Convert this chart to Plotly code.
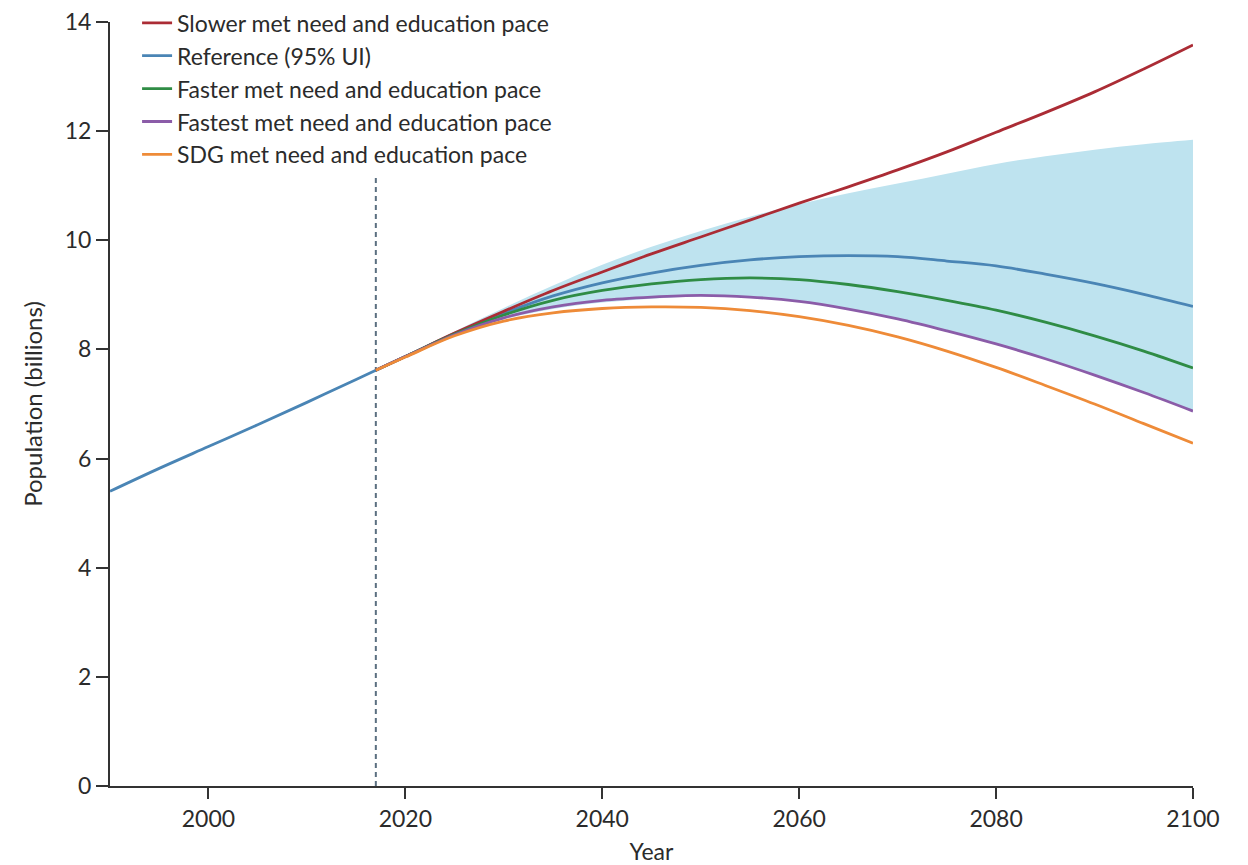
import plotly.graph_objects as go

# ---- data (billions) ----
hist_years = [1990, 1995, 2000, 2005, 2010, 2015, 2017]
hist_pop = [5.40, 5.82, 6.22, 6.62, 7.03, 7.45, 7.62]

fc_years = [2017, 2020, 2025, 2030, 2035, 2040, 2045, 2050, 2055, 2060,
            2065, 2070, 2075, 2080, 2085, 2090, 2095, 2100]
slower = [7.62, 7.87, 8.30, 8.70, 9.08, 9.42, 9.75, 10.06, 10.37, 10.68,
          10.98, 11.29, 11.62, 11.98, 12.34, 12.72, 13.14, 13.58]
reference = [7.62, 7.87, 8.29, 8.66, 8.98, 9.22, 9.40, 9.54, 9.64, 9.70,
             9.72, 9.70, 9.62, 9.53, 9.38, 9.21, 9.01, 8.79]
faster = [7.62, 7.87, 8.28, 8.63, 8.90, 9.08, 9.20, 9.28, 9.31, 9.28,
          9.19, 9.06, 8.90, 8.72, 8.50, 8.25, 7.97, 7.66]
fastest = [7.62, 7.87, 8.27, 8.58, 8.78, 8.90, 8.96, 8.99, 8.96, 8.88,
           8.74, 8.56, 8.34, 8.10, 7.83, 7.53, 7.21, 6.87]
sdg = [7.62, 7.86, 8.25, 8.52, 8.67, 8.75, 8.78, 8.77, 8.71, 8.60,
       8.44, 8.23, 7.97, 7.67, 7.34, 7.00, 6.64, 6.28]
ui_upper = [7.62, 7.88, 8.33, 8.76, 9.17, 9.55, 9.88, 10.17, 10.43, 10.66,
            10.86, 11.04, 11.22, 11.40, 11.54, 11.66, 11.76, 11.84]
ui_lower = [7.62, 7.86, 8.25, 8.55, 8.74, 8.86, 8.93, 8.97, 8.95, 8.87,
            8.73, 8.55, 8.33, 8.09, 7.82, 7.52, 7.20, 6.86]

forecast_start = 2017
divider_top = 11.15

x_ticks = [2000, 2020, 2040, 2060, 2080, 2100]
y_ticks = [0, 2, 4, 6, 8, 10, 12, 14]

names = ["Slower met need and education pace", "Reference (95% UI)",
         "Faster met need and education pace", "Fastest met need and education pace",
         "SDG met need and education pace"]
colors = ["#ab2c35", "#4a85b5", "#2f8c45", "#8b5ca8", "#ee8b38"]
band_color = "rgba(190,227,239,1)"

FONT = "Lato, 'Open Sans', sans-serif"
TXT = "#2b2b2b"
FS = 23

fig = go.Figure()

# UI band
fig.add_trace(go.Scatter(x=fc_years, y=ui_lower, mode="lines", line=dict(width=0, shape="spline"),
                         showlegend=False, hoverinfo="skip"))
fig.add_trace(go.Scatter(x=fc_years, y=ui_upper, mode="lines", line=dict(width=0, shape="spline"),
                         fill="tonexty", fillcolor=band_color, showlegend=False, hoverinfo="skip"))

# divider
fig.add_trace(go.Scatter(x=[forecast_start, forecast_start], y=[0, divider_top], mode="lines",
                         line=dict(color="#5b6f80", width=2, dash="5px,4px"),
                         showlegend=False, hoverinfo="skip"))

# historical
fig.add_trace(go.Scatter(x=hist_years, y=hist_pop, mode="lines",
                         line=dict(color=colors[1], width=2.8, shape="spline"), showlegend=False))

series = [slower, reference, faster, fastest, sdg]
draw_order = [1, 0, 2, 3, 4]
for i in draw_order:
    fig.add_trace(go.Scatter(x=fc_years, y=series[i], mode="lines", name=names[i],
                             legendrank=i + 1,
                             line=dict(color=colors[i], width=2.8, shape="spline")))

fig.update_layout(
    width=1240, height=857,
    margin=dict(l=102, r=55, t=14, b=79, autoexpand=False),
    paper_bgcolor="white", plot_bgcolor="white",
    font=dict(family=FONT, size=FS, color=TXT),
    showlegend=True,
    legend=dict(x=0.025, y=1.027, xanchor="left", yanchor="top", bgcolor="rgba(0,0,0,0)",
                font=dict(family=FONT, size=FS, color=TXT), tracegroupgap=0,
                itemwidth=30, traceorder="normal"),
    xaxis=dict(range=[1990, 2100], tickvals=x_ticks, ticks="outside", ticklen=11, tickwidth=2,
               tickcolor="#333", showline=True, linecolor="#333", linewidth=2, showgrid=False,
               zeroline=False, tickfont=dict(size=FS, color=TXT), automargin=False,
               ticklabeloverflow="allow",
               title=dict(text="Year", font=dict(size=FS, color=TXT), standoff=17)),
    yaxis=dict(range=[0, 14], tickvals=y_ticks, ticks="outside", ticklen=12, tickwidth=2,
               tickcolor="#333", showline=True, linecolor="#333", linewidth=2, showgrid=False,
               zeroline=False, tickfont=dict(size=FS, color=TXT), automargin=False,
               ticklabeloverflow="allow",
               title=dict(text="Population (billions)", font=dict(size=FS + 1, color=TXT), standoff=15)),
)

fig.write_html("out.html")
